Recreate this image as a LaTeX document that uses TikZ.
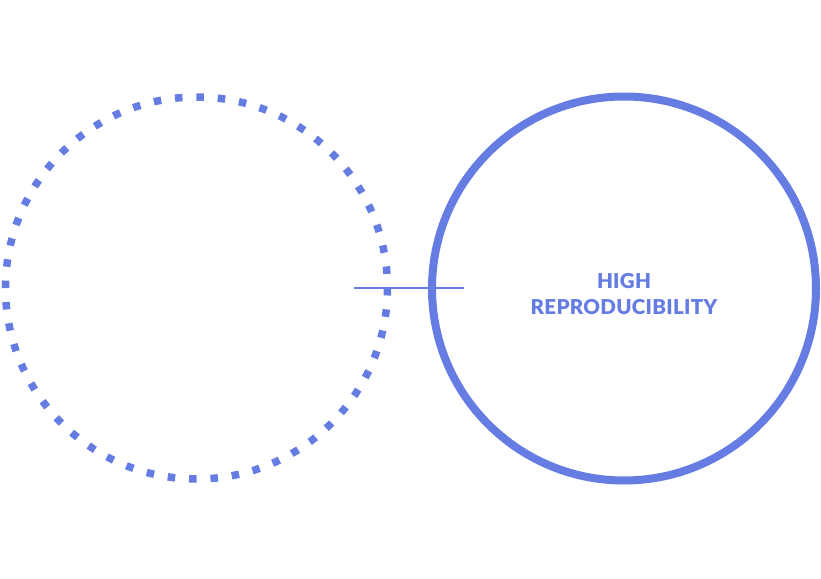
\documentclass[tikz,border=0pt]{standalone}
\usepackage{fontspec}
\setmainfont{Lato}
\newfontfamily\lblfont{Lato Black}[LetterSpace=1.5]
\definecolor{blu}{RGB}{101,124,226}
\begin{document}
\begin{tikzpicture}[x=1pt,y=-1pt,
  dotring/.style={draw=blu,line width=7.5pt,dash pattern=on 7.5pt off 13.93pt},
  solidring/.style={draw=blu,line width=8pt},
  bar/.style={draw=blu,line width=2.6pt},
  lbl/.style={text=blu,font=\lblfont\fontsize{20.5}{26}\selectfont,align=center,inner sep=0pt}]
\useasboundingbox (0,0) rectangle (821,578);
\coordinate (lc) at (196.5,288);
\coordinate (rc) at (624,288.5);
\draw[dotring] (lc) circle[radius=191];
\draw[solidring] (rc) circle[radius=192];
\coordinate (ba) at (354,288);
\coordinate (bb) at (464,288);
\draw[bar] (ba) -- (bb);
\node[lbl] (t) at (624,294) {HIGH\\REPRODUCIBILITY};
\end{tikzpicture}
\end{document}
